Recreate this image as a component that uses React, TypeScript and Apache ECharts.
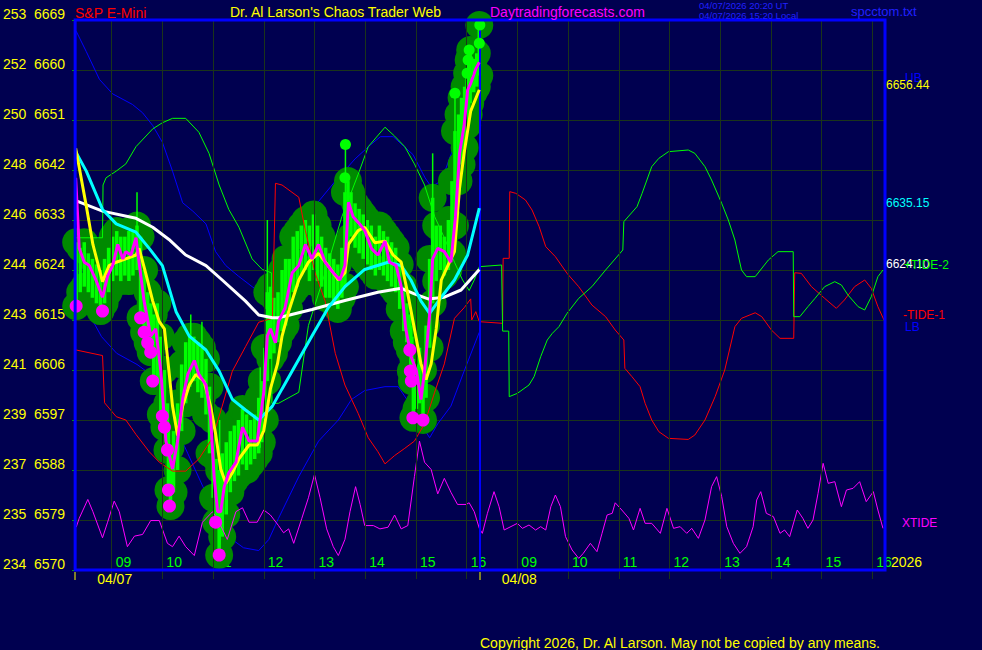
import React, { useEffect, useRef } from "react";
import * as echarts from "echarts";

const FONT = "'Liberation Sans', Arial, Helvetica, sans-serif";
const BG = "#000050";
const GRIDC = "#1a341a";

const X_MIN = 0.28;
const X_MAX = 16.25;
const Y_MIN = 6570;
const Y_MAX = 6669;
const Y_STEP = 9;
const DAY_BREAK = 8.26;

const etfLabels = ["234", "235", "237", "239", "241", "243", "244", "246", "248", "250", "252", "253"];
const hourTicks = [1, 2, 3, 4, 5, 6, 7, 8, 9, 10, 11, 12, 13, 14, 15, 16];
const hourNames = ["09", "10", "11", "12", "13", "14", "15", "16", "09", "10", "11", "12", "13", "14", "15", "16"];
const dayNames = ["04/07", "04/08"];
const dayStarts = [X_MIN, DAY_BREAK];

// price bar bodies: [t, low, high]
const bars: number[][] = [
  [0.30, 6617.5, 6629], [0.38, 6620, 6628], [0.46, 6621, 6629], [0.54, 6620, 6627], [0.62, 6619, 6626],
  [0.70, 6618, 6625], [0.78, 6616.6, 6624], [0.86, 6618, 6626], [0.94, 6620, 6628], [1.02, 6622, 6630],
  [1.10, 6623, 6631], [1.18, 6622, 6630], [1.26, 6623, 6630], [1.34, 6622, 6631], [1.42, 6623, 6631],
  [1.50, 6624, 6632], [1.57, 6615.4, 6630], [1.64, 6612.8, 6624], [1.71, 6610.9, 6620], [1.77, 6609.2, 6618],
  [1.83, 6604, 6616], [1.90, 6604, 6618], [1.97, 6598, 6612], [2.04, 6595.7, 6606], [2.10, 6591.6, 6600],
  [2.12, 6584.4, 6596], [2.16, 6581.5, 6592], [2.22, 6584, 6595], [2.30, 6588, 6600], [2.38, 6595, 6607],
  [2.46, 6600, 6611], [2.54, 6603, 6612], [2.62, 6604, 6612], [2.70, 6602, 6611], [2.78, 6601, 6610],
  [2.86, 6598, 6608], [2.93, 6591, 6603], [3.00, 6583, 6597], [3.06, 6578.6, 6590], [3.12, 6572.7, 6588],
  [3.18, 6576, 6591], [3.26, 6580, 6593], [3.34, 6584, 6595], [3.42, 6586, 6596], [3.50, 6587, 6597],
  [3.58, 6589, 6599], [3.66, 6588, 6598], [3.74, 6589, 6597], [3.82, 6590, 6598], [3.90, 6591, 6601],
  [3.96, 6593, 6604], [4.02, 6597, 6610], [4.07, 6604, 6620], [4.13, 6608, 6621], [4.20, 6609, 6619],
  [4.28, 6611, 6620], [4.36, 6613, 6624], [4.43, 6614, 6626], [4.50, 6617, 6626], [4.58, 6620, 6630],
  [4.66, 6621, 6631], [4.74, 6623, 6632], [4.82, 6624, 6633], [4.90, 6622, 6632], [4.98, 6624, 6634],
  [5.06, 6622, 6632], [5.14, 6621, 6630], [5.22, 6619, 6628], [5.30, 6619, 6627], [5.38, 6618, 6626],
  [5.46, 6617, 6625], [5.54, 6619, 6628], [5.60, 6621, 6638], [5.66, 6628, 6640], [5.72, 6630, 6638],
  [5.80, 6628, 6636], [5.88, 6627, 6635], [5.96, 6626, 6634], [6.04, 6625, 6633], [6.12, 6624, 6632],
  [6.20, 6623, 6630], [6.28, 6624, 6632], [6.36, 6623, 6631], [6.44, 6622, 6630], [6.52, 6621, 6629],
  [6.60, 6620, 6628], [6.68, 6617, 6625], [6.76, 6613, 6621], [6.82, 6611, 6618], [6.88, 6609.6, 6616],
  [6.90, 6605.8, 6614], [6.92, 6604, 6612], [6.95, 6597.4, 6608], [7.01, 6599, 6607], [7.07, 6600, 6610],
  [7.14, 6597, 6606], [7.20, 6601, 6614], [7.27, 6610, 6626], [7.33, 6618, 6637], [7.40, 6622, 6632],
  [7.48, 6624, 6632], [7.56, 6623, 6630], [7.64, 6624, 6633], [7.71, 6627, 6640], [7.77, 6632, 6649],
  [7.84, 6640, 6652], [7.90, 6643, 6655], [7.96, 6646, 6657], [8.01, 6650, 6659.4], [8.04, 6652, 6661.8],
  [8.07, 6654, 6663.6], [8.14, 6656, 6662], [8.20, 6657, 6663], [8.25, 6659, 6668.1],
];

// thin price spikes: [t, low, high]
const spikes: number[][] = [
  [1.50, 6626, 6638], [2.56, 6606, 6616], [2.78, 6604, 6614.7], [3.13, 6574, 6597], [3.93, 6592, 6606.5],
  [4.07, 6604, 6633], [5.61, 6630, 6646.6], [7.33, 6620, 6645], [7.77, 6636, 6655.8],
];

const lowDots: number[][] = [
  [0.30, 6617.5], [0.82, 6616.6], [1.57, 6615.4], [1.64, 6612.8], [1.71, 6610.9], [1.77, 6609.2],
  [1.81, 6604], [2.00, 6597.7], [2.04, 6595.7], [2.10, 6591.6], [2.12, 6584.4], [2.14, 6581.5],
  [3.05, 6578.6], [3.12, 6572.7], [6.88, 6609.6], [6.89, 6605.8], [6.91, 6604], [6.94, 6597.4], [7.14, 6597],
];

const highDots: number[][] = [
  [5.61, 6646.6], [5.60, 6640.6], [7.77, 6655.8], [8.01, 6659.4], [8.03, 6661.8], [8.05, 6663.6],
  [8.25, 6664.8], [8.26, 6668.1],
];

const closeLine: number[][] = [
  [0.29, 6640.6], [0.33, 6633.6], [0.36, 6627.9], [0.46, 6625.4], [0.56, 6624.8], [0.69, 6622.2], [0.82, 6619.1],
  [0.92, 6622.9], [1.02, 6624.8], [1.12, 6628.6], [1.22, 6626], [1.28, 6627.3], [1.38, 6626.7], [1.48, 6629.8],
  [1.54, 6625.4], [1.64, 6618.4], [1.77, 6612.1], [1.87, 6613.4], [1.97, 6605.8], [2.07, 6593.2], [2.20, 6588.2],
  [2.30, 6593.2], [2.40, 6600.8], [2.50, 6605.2], [2.63, 6607.7], [2.72, 6605.2], [2.86, 6603.3], [2.95, 6597.6],
  [3.02, 6586.9], [3.09, 6580.5], [3.15, 6580.5], [3.22, 6585], [3.31, 6587.5], [3.45, 6589.4], [3.58, 6595.7],
  [3.71, 6593.2], [3.87, 6593.2], [4.00, 6602], [4.07, 6612.1], [4.13, 6613.4], [4.23, 6610.9], [4.29, 6614.7],
  [4.42, 6617.2], [4.56, 6623.5], [4.69, 6624.8], [4.82, 6628.6], [4.95, 6626], [5.08, 6628.6], [5.21, 6625.4],
  [5.37, 6623.5], [5.50, 6622.2], [5.60, 6624.8], [5.67, 6636.2], [5.76, 6633.6], [5.89, 6632.3], [5.99, 6631.1],
  [6.12, 6627.9], [6.25, 6626.7], [6.39, 6629.2], [6.48, 6625.4], [6.61, 6624.8], [6.71, 6621], [6.80, 6613.4],
  [6.91, 6608.3], [7.01, 6605.8], [7.10, 6600.7], [7.17, 6605.8], [7.27, 6615.9], [7.33, 6626], [7.43, 6627.9],
  [7.56, 6627.3], [7.69, 6625.4], [7.78, 6633.6], [7.86, 6645], [7.95, 6650], [8.02, 6656.4], [8.08, 6657.6],
  [8.18, 6660.2], [8.25, 6661.4],
];

const yellowMA: number[][] = [
  [0.29, 6645.9], [0.36, 6642.5], [0.50, 6635.5], [0.63, 6628.6], [0.82, 6621.9], [0.95, 6624.8], [1.09, 6625.4],
  [1.28, 6626], [1.48, 6626.7], [1.54, 6627.9], [1.67, 6623.5], [1.81, 6618.4], [1.94, 6614.7], [2.04, 6613.4],
  [2.13, 6605.8], [2.20, 6599.5], [2.30, 6594.2], [2.40, 6599.5], [2.53, 6603.3], [2.66, 6605.2], [2.82, 6604],
  [2.95, 6599.5], [3.05, 6594.5], [3.15, 6588.2], [3.25, 6585.6], [3.38, 6587.5], [3.51, 6590], [3.71, 6592.5],
  [3.87, 6592.5], [4.00, 6595.1], [4.13, 6602.6], [4.27, 6607.1], [4.36, 6612.1], [4.49, 6616.5], [4.69, 6622.2],
  [4.88, 6625.4], [5.08, 6627], [5.27, 6624.8], [5.47, 6622.2], [5.60, 6623.5], [5.67, 6628.6], [5.86, 6631.1],
  [5.99, 6631.7], [6.19, 6628.9], [6.39, 6629.2], [6.55, 6626.7], [6.71, 6625.4], [6.84, 6619.7], [6.97, 6613.4],
  [7.10, 6607.1], [7.20, 6604.3], [7.30, 6607.1], [7.40, 6613.4], [7.50, 6622.2], [7.63, 6624.8], [7.76, 6627.3],
  [7.86, 6638.7], [7.95, 6645], [8.08, 6652.6], [8.25, 6656.44],
];

const cyanMA: number[][] = [
  [0.29, 6645.3], [0.50, 6641.8], [0.82, 6634.9], [1.09, 6632.3], [1.48, 6630.8], [1.74, 6627.9], [2.00, 6624.8],
  [2.27, 6616.5], [2.53, 6612.1], [2.86, 6609.6], [3.12, 6605.8], [3.38, 6600.7], [3.64, 6598.8], [3.90, 6597],
  [4.17, 6599.5], [4.36, 6602.6], [4.56, 6605.8], [4.95, 6612.1], [5.27, 6617.2], [5.60, 6621], [5.99, 6624.1],
  [6.45, 6625.4], [6.71, 6624.8], [6.90, 6622.2], [7.10, 6618.4], [7.27, 6616.2], [7.50, 6619.1], [7.76, 6622.2],
  [8.02, 6626.7], [8.25, 6635.15],
];

const whiteMA: number[][] = [
  [0.29, 6636.5], [0.82, 6634.6], [1.48, 6633.3], [1.81, 6631.7], [2.13, 6629.5], [2.46, 6626.7], [2.86, 6624.8],
  [3.18, 6622.2], [3.64, 6618.4], [3.90, 6615.9], [4.17, 6615.4], [4.29, 6615.4], [4.95, 6616.9], [5.60, 6618.5],
  [6.25, 6620], [6.71, 6620.7], [6.97, 6619.7], [7.24, 6618.8], [7.56, 6619.1], [7.89, 6620.4], [8.25, 6624.1],
];

const upperBand: number[][] = [
  [0.30, 6667], [0.50, 6663.3], [0.76, 6658.3], [1.02, 6655.7], [1.41, 6653.8], [1.61, 6652.3], [1.81, 6650],
  [2.00, 6647], [2.20, 6641.8], [2.40, 6636.1], [2.60, 6634.6], [2.86, 6632.3], [3.05, 6627.3], [3.25, 6624.8],
  [3.50, 6622.9], [3.77, 6621], [3.97, 6619.7], [4.17, 6619], [4.42, 6626], [4.70, 6631], [4.95, 6634.9],
  [5.41, 6640], [5.80, 6644], [6.10, 6646.5], [6.30, 6648], [6.55, 6648], [6.94, 6644.8], [7.18, 6640.6],
  [7.30, 6639], [7.50, 6640], [7.70, 6645], [7.90, 6650], [8.10, 6655], [8.25, 6657.7],
];

const lowerBand: number[][] = [
  [0.30, 6624], [0.50, 6617], [0.80, 6612], [1.10, 6609], [1.50, 6607], [1.80, 6605], [2.00, 6601], [2.20, 6597],
  [2.50, 6591], [2.80, 6585], [3.05, 6580.5], [3.30, 6576], [3.60, 6574], [3.90, 6573.5], [4.10, 6575.5],
  [4.29, 6579.3], [4.69, 6586.8], [5.08, 6593.2], [5.47, 6597], [5.73, 6600.7], [5.99, 6602.3], [6.39, 6603],
  [6.65, 6603], [6.91, 6599.5], [7.10, 6596.3], [7.27, 6593.8], [7.43, 6596.3], [7.69, 6599.5], [7.95, 6605.8],
  [8.25, 6612.8],
];

const tidePlus: number[][] = [
  [0.30, 6629.8], [0.82, 6629.8], [0.83, 6639.3], [0.89, 6640.6], [1.09, 6641.8], [1.28, 6643.1], [1.48, 6646.2],
  [1.81, 6649.4], [2.00, 6650.5], [2.20, 6651.3], [2.46, 6651.3], [2.72, 6648.8], [2.92, 6645], [3.12, 6639.3],
  [3.31, 6634.9], [3.51, 6631.7], [3.77, 6626], [3.97, 6624.1], [4.15, 6623.5], [4.16, 6600], [4.29, 6600],
  [4.69, 6602], [4.88, 6614], [5.21, 6623.5], [5.54, 6633.6], [5.86, 6641.2], [6.06, 6646.2], [6.39, 6649.7],
  [6.58, 6648.1], [6.78, 6646.2], [6.97, 6643.1], [7.17, 6639.3], [7.37, 6633.6], [7.56, 6629.8], [7.76, 6625.4],
  [7.92, 6622.2], [8.05, 6620.3], [8.15, 6622.2], [8.25, 6624.6], [8.69, 6624.9], [8.70, 6624.9], [8.71, 6613],
  [8.83, 6613], [8.84, 6601.2], [9.00, 6601.8], [9.23, 6603.3], [9.33, 6604.8], [9.46, 6608.4], [9.59, 6611.4],
  [9.69, 6612.6], [9.82, 6613.8], [9.98, 6616.2], [10.21, 6618.9], [10.47, 6621], [10.74, 6624], [11.08, 6627.6],
  [11.10, 6632.7], [11.36, 6635.4], [11.46, 6637.8], [11.65, 6642.6], [11.79, 6644.1], [11.98, 6645.3],
  [12.37, 6645.6], [12.50, 6645], [12.70, 6642.6], [12.83, 6640.2], [13.03, 6636], [13.16, 6633], [13.29, 6629.4],
  [13.42, 6624], [13.52, 6622.8], [13.69, 6622.8], [13.95, 6625.8], [14.14, 6627.3], [14.44, 6627.3],
  [14.45, 6615.6], [14.57, 6615.6], [14.73, 6617.4], [14.87, 6618.9], [15.06, 6621], [15.26, 6621.9],
  [15.39, 6621.3], [15.52, 6619.5], [15.72, 6617.4], [15.85, 6616.8], [15.98, 6619.2], [16.11, 6622.8],
  [16.21, 6624.0],
];

const tideMinus: number[][] = [
  [0.30, 6609.6], [0.82, 6608.6], [0.86, 6600.1], [1.09, 6597.6], [1.28, 6597], [1.48, 6594.4], [1.74, 6591.3],
  [1.94, 6589.4], [2.20, 6587.8], [2.46, 6587.8], [2.72, 6590], [2.99, 6593.8], [3.18, 6599.5], [3.38, 6605.8],
  [3.64, 6610.2], [3.90, 6614.6], [4.17, 6615.3], [4.23, 6639.6], [4.36, 6639.3], [4.69, 6637.1], [4.82, 6631.1],
  [5.01, 6623.5], [5.21, 6618.4], [5.41, 6609], [5.60, 6603.3], [5.86, 6598.2], [6.06, 6593.8], [6.25, 6591.3],
  [6.39, 6589.1], [6.58, 6590.6], [6.78, 6591.9], [6.97, 6593.2], [7.17, 6596.3], [7.37, 6602], [7.56, 6607.1],
  [7.76, 6615.3], [7.95, 6617.2], [8.08, 6618.8], [8.10, 6615], [8.18, 6616.5], [8.25, 6614.7], [8.71, 6614.4],
  [8.72, 6626.1], [8.84, 6626.1], [8.85, 6638.1], [8.97, 6637.8], [9.16, 6636.6], [9.29, 6634.8], [9.43, 6631.8],
  [9.56, 6628.2], [9.75, 6626.4], [9.98, 6623.4], [10.21, 6621], [10.47, 6617.7], [10.74, 6615.6], [10.93, 6613.2],
  [11.10, 6611.4], [11.12, 6606.3], [11.26, 6604.8], [11.42, 6603], [11.52, 6600], [11.65, 6597], [11.79, 6594.9],
  [11.98, 6593.7], [12.37, 6593.5], [12.50, 6594.3], [12.70, 6597], [12.90, 6601.2], [13.09, 6606], [13.29, 6613.8],
  [13.42, 6615.3], [13.69, 6616.3], [13.82, 6615.6], [14.01, 6613.2], [14.18, 6611.7], [14.45, 6611.7],
  [14.47, 6623.5], [14.60, 6623.4], [14.80, 6621], [15.06, 6618.9], [15.29, 6617.1], [15.45, 6618.6], [15.65, 6621],
  [15.85, 6622.2], [15.98, 6620.7], [16.11, 6617.4], [16.23, 6615.0],
];

const xtide: number[][] = [
  [0.30, 6577.7], [0.36, 6579.3], [0.53, 6582.7], [0.63, 6580.5], [0.82, 6575.8], [0.92, 6578.6], [1.05, 6582.4],
  [1.15, 6580.5], [1.31, 6574.2], [1.45, 6576.1], [1.61, 6576.4], [1.77, 6578.9], [1.94, 6578.9], [2.10, 6574.8],
  [2.20, 6574.2], [2.33, 6576.1], [2.46, 6574.2], [2.63, 6572.6], [2.79, 6578.6], [2.99, 6580.5], [3.12, 6578.6],
  [3.28, 6575.5], [3.45, 6580.5], [3.58, 6581.2], [3.71, 6578.6], [3.87, 6578.6], [4.00, 6580.8], [4.13, 6579.9],
  [4.29, 6578], [4.39, 6576.7], [4.49, 6577.4], [4.59, 6574.8], [4.75, 6579.3], [4.88, 6583], [5.00, 6587.2],
  [5.11, 6583], [5.24, 6577.4], [5.37, 6574.2], [5.47, 6572.6], [5.60, 6575.5], [5.70, 6580.5], [5.81, 6585],
  [5.90, 6581.8], [5.99, 6578], [6.16, 6578], [6.29, 6577.4], [6.45, 6577.7], [6.58, 6579.9], [6.71, 6577.4],
  [6.84, 6578], [6.97, 6586.8], [7.07, 6593.2], [7.17, 6589.4], [7.30, 6588.1], [7.43, 6583.7], [7.56, 6586.5],
  [7.69, 6584], [7.82, 6581.8], [7.99, 6581.8], [8.05, 6582.1], [8.15, 6580.5], [8.25, 6577.5], [8.31, 6576.6],
  [8.41, 6580.2], [8.54, 6584.1], [8.64, 6581.4], [8.74, 6577.2], [9.00, 6578.4], [9.10, 6577.5], [9.23, 6578.1],
  [9.36, 6577.2], [9.46, 6577.8], [9.56, 6577.2], [9.66, 6581.4], [9.75, 6583.5], [9.85, 6581.4], [9.95, 6576],
  [10.08, 6573.6], [10.21, 6572.1], [10.30, 6573], [10.44, 6574.8], [10.57, 6573.3], [10.67, 6576.6],
  [10.77, 6579.9], [10.87, 6580.2], [10.93, 6582.1], [11.06, 6580.8], [11.20, 6579.3], [11.29, 6577.2],
  [11.42, 6581.1], [11.52, 6578.4], [11.65, 6578.4], [11.82, 6576.6], [11.95, 6581.1], [12.08, 6577.5],
  [12.21, 6577.8], [12.34, 6576.6], [12.44, 6577.5], [12.57, 6575.7], [12.70, 6579], [12.83, 6585],
  [12.93, 6586.8], [13.03, 6583.2], [13.13, 6577.8], [13.26, 6574.8], [13.39, 6573], [13.52, 6574.2],
  [13.65, 6577.8], [13.72, 6582.6], [13.80, 6584.1], [13.91, 6580.2], [14.05, 6579.6], [14.18, 6576.6],
  [14.27, 6577.2], [14.37, 6576], [14.52, 6580.8], [14.63, 6579.3], [14.73, 6577.5], [14.83, 6579],
  [14.93, 6583.8], [15.03, 6589.2], [15.13, 6585.6], [15.26, 6585.9], [15.39, 6581.4], [15.49, 6584.4],
  [15.62, 6584.7], [15.75, 6585.9], [15.88, 6582.3], [16.02, 6584.1], [16.11, 6580.8], [16.21, 6577.5],
];

const last = (a: number[][]) => a[a.length - 1][1];

export default function App() {
  const ref = useRef<HTMLDivElement>(null);

  useEffect(() => {
    const el = ref.current;
    if (!el) return;
    const chart = echarts.init(el, null, { renderer: "svg" });

    const lineSeries = (name: string, data: number[][], color: string, width: number, z: number, extra: any = {}) => ({
      type: "line",
      name,
      data,
      showSymbol: false,
      symbol: "none",
      silent: true,
      clip: true,
      z,
      lineStyle: { color, width },
      itemStyle: { color },
      ...extra,
    });

    const rangeSeries = (name: string, data: number[][], color: string, w: number, z: number) => ({
      type: "custom",
      name,
      data,
      silent: true,
      z,
      clip: true,
      encode: { x: 0, y: [1, 2] },
      renderItem: (params: any, api: any) => {
        const lo = api.coord([api.value(0), api.value(1)]);
        const hi = api.coord([api.value(0), api.value(2)]);
        return {
          type: "rect",
          shape: { x: lo[0] - w / 2, y: hi[1], width: w, height: lo[1] - hi[1] },
          style: { fill: color },
        };
      },
    });

    const envelope = bars.flatMap((b) => [[b[0], b[1]], [b[0], b[2]]]);

    const option: any = {
      animation: false,
      backgroundColor: BG,
      grid: {
        left: 75,
        top: 20,
        width: 810,
        height: 550,
        show: true,
        borderColor: "#0000ff",
        borderWidth: 3,
        backgroundColor: "transparent",
        z: 20,
      },
      xAxis: {
        type: "value",
        min: X_MIN,
        max: X_MAX,
        axisLine: { show: false },
        splitLine: { show: false },
        axisTick: { show: true, customValues: hourTicks, length: 9, lineStyle: { color: GRIDC, width: 1 } },
        axisLabel: {
          show: true,
          customValues: hourTicks,
          inside: true,
          margin: 1,
          color: "#00ff00",
          fontFamily: FONT,
          fontSize: 14,
          lineHeight: 14,
          align: "left",
          padding: [0, 0, 0, 4],
          formatter: (v: number) => hourNames[hourTicks.indexOf(Math.round(v))] ?? "",
        },
      },
      yAxis: {
        type: "value",
        min: Y_MIN,
        max: Y_MAX,
        interval: Y_STEP,
        axisLine: { show: false },
        axisTick: { show: true, length: 3, lineStyle: { color: "#00b000" } },
        splitLine: { show: true, lineStyle: { color: GRIDC, width: 1 } },
        axisLabel: {
          margin: 10,
          verticalAlign: "bottom",
          lineHeight: 12,
          formatter: (v: number) => {
            const i = Math.round((v - Y_MIN) / Y_STEP);
            return `{l|${etfLabels[i]}}{r|${v}}`;
          },
          rich: {
            l: { width: 31, color: "#ffff00", fontSize: 14, fontFamily: FONT, align: "left" },
            r: { color: "#ffff00", fontSize: 14, fontFamily: FONT },
          },
        },
      },
      series: [
        lineSeries("LB", lowerBand, "#0000ff", 1, 1, {
          markLine: {
            silent: true,
            symbol: "none",
            label: { show: false },
            lineStyle: { color: GRIDC, width: 1, type: "solid" },
            data: hourTicks.map((h) => ({ xAxis: h })),
          },
        }),
        lineSeries("UB", upperBand, "#0000ff", 1, 1),
        {
          type: "scatter",
          name: "envelope",
          data: envelope,
          symbol: "circle",
          symbolSize: 28,
          silent: true,
          z: 2,
          itemStyle: { color: "#008a00", opacity: 1 },
        },
        rangeSeries("bars", bars, "#00ff00", 3.5, 3),
        rangeSeries("spikes", spikes, "#00ff00", 1.5, 3),
        lineSeries("-TIDE-1", tideMinus, "#ff0000", 1, 4),
        lineSeries("+TIDE-2", tidePlus, "#00ff00", 1, 4),
        lineSeries("XTIDE", xtide, "#ff00ff", 1, 4),
        lineSeries("white", whiteMA, "#ffffff", 3, 5),
        lineSeries("cyan", cyanMA, "#00ffff", 3, 5),
        lineSeries("yellow", yellowMA, "#ffff00", 3, 6),
        lineSeries("close", closeLine, "#ff00ff", 3, 7, {
          markLine: {
            silent: true,
            symbol: "none",
            label: { show: false },
            lineStyle: { color: "#0000ff", width: 2, type: "solid" },
            data: [{ xAxis: DAY_BREAK }],
          },
        }),
        {
          type: "scatter",
          name: "lows",
          data: lowDots,
          symbol: "circle",
          symbolSize: 13,
          silent: true,
          z: 8,
          itemStyle: { color: "#ff00ff", opacity: 1 },
        },
        {
          type: "scatter",
          name: "highs",
          data: highDots,
          symbol: "circle",
          symbolSize: 11,
          silent: true,
          z: 8,
          itemStyle: { color: "#00ff00", opacity: 1 },
        },
      ],
    };

    chart.setOption(option);

    const px = (x: number, y: number) => chart.convertToPixel({ gridIndex: 0 }, [x, y]) as number[];
    const txt = (id: string, text: string, x: number, y: number, color: string, size: number) => ({
      type: "text",
      id,
      x,
      y,
      silent: true,
      z: 100,
      style: {
        text,
        fill: color,
        font: `${size}px ${FONT}`,
        textAlign: "left",
        textVerticalAlign: "middle",
        align: "left",
        verticalAlign: "middle",
      },
    });

    const rightX = px(X_MAX, Y_MIN)[0];
    const bottomY = px(X_MIN, Y_MIN)[1];
    const rightLabels = [
      { t: "UB", v: last(upperBand), c: "#0000ff", dx: 20 },
      { t: last(yellowMA).toFixed(2), v: last(yellowMA), c: "#ffff00", dx: 1 },
      { t: last(cyanMA).toFixed(2), v: last(cyanMA), c: "#00ffff", dx: 1 },
      { t: last(whiteMA).toFixed(2), v: last(whiteMA), c: "#ffffff", dx: 1 },
      { t: "+TIDE-2", v: last(tidePlus), c: "#00ff00", dx: 19 },
      { t: "-TIDE-1", v: last(tideMinus), c: "#ff0000", dx: 18 },
      { t: "LB", v: last(lowerBand), c: "#0000ff", dx: 20 },
      { t: "XTIDE", v: last(xtide), c: "#ff00ff", dx: 17 },
    ];

    const graphics: any[] = [
      txt("t1", "S&P E-Mini", 75, 13, "#ff0000", 14),
      txt("t2", "Dr. Al Larson's Chaos Trader Web", 230, 12, "#ffff00", 14),
      txt("t3", "Daytradingforecasts.com", 490, 12, "#ff00ff", 14),
      txt("t4", "04/07/2026 20:20 UT", 699, 5.5, "#2020ff", 9.5),
      txt("t5", "04/07/2026 15:20 Local", 699, 15.5, "#2020ff", 9.5),
      txt("t6", "spcctom.txt", 851, 11, "#2020ff", 13),
      txt("t7", "Copyright 2026, Dr. Al Larson. May not be copied by any means.", 480, 643, "#ffff00", 14),
      txt("t8", "2026", 891, 562, "#ffff00", 14),
      ...rightLabels.map((r, i) => txt("r" + i, r.t, rightX + r.dx, px(X_MAX, r.v)[1] - 5, r.c, 12)),
      ...dayStarts.map((d, i) => {
        const x = Math.round(px(d, Y_MIN)[0]);
        return {
          type: "line",
          id: "dt" + i,
          silent: true,
          z: 100,
          shape: { x1: x, y1: bottomY + 2, x2: x, y2: bottomY + 10 },
          style: { stroke: "#ffff00", lineWidth: 1 },
        };
      }),
      ...dayStarts.map((d, i) => txt("dn" + i, dayNames[i], px(d, Y_MIN)[0] + 22, bottomY + 9, "#ffff00", 14)),
    ];

    chart.setOption({ graphic: graphics });

    return () => {
      chart.dispose();
    };
  }, []);

  return (
    <div
      ref={ref}
      style={{ position: "fixed", left: 0, top: 0, width: 982, height: 650, background: BG }}
    />
  );
}
